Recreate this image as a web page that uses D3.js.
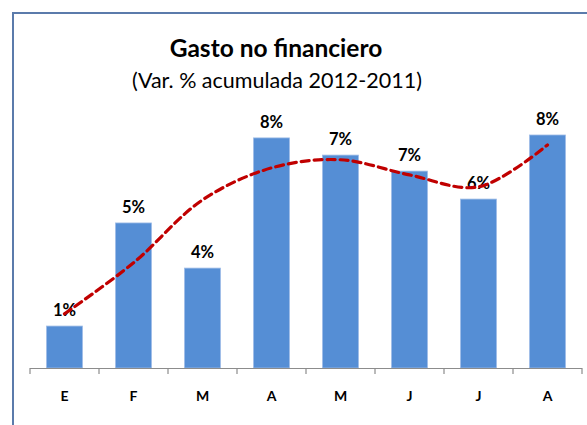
<!DOCTYPE html>
<html><head><meta charset="utf-8">
<script src="https://cdn.jsdelivr.net/npm/d3@7"></script>
<style>body{margin:0;background:#fff}svg{display:block}</style>
</head><body>
<svg id="c" width="587" height="425"></svg>
<script>
const categories = ["E","F","M","A","M","J","J","A"];
const values = [1.44, 4.98, 3.43, 7.9, 7.31, 6.76, 5.8, 8.0];
const labels = ["1%","5%","4%","8%","7%","7%","6%","8%"];
const trend = [1.86, 3.61, 5.77, 6.87, 7.15, 6.63, 6.22, 7.66];

const svg = d3.select("#c");
const font = "Lato, 'Open Sans', sans-serif";

// chart border
svg.append("path").attr("d","M13,425 V13 H587").attr("fill","none")
  .attr("stroke","#5b7bab").attr("stroke-width",2);

svg.append("text").attr("x",276).attr("y",57).attr("text-anchor","middle")
  .attr("font-family",font).attr("font-weight","bold").attr("font-size",24.5)
  .attr("fill","#000").text("Gasto no financiero");
svg.append("text").attr("x",277).attr("y",88).attr("text-anchor","middle")
  .attr("font-family",font).attr("font-size",21.5)
  .attr("fill","#000").text("(Var. % acumulada 2012-2011)");

const x = d3.scaleBand().domain(d3.range(categories.length)).range([30,582])
  .paddingInner(0.48).paddingOuter(0.24);
const y = d3.scaleLinear().domain([0,8]).range([368,135]);

svg.selectAll("rect.bar").data(values).join("rect").attr("class","bar")
  .attr("x",(d,i)=>x(i)).attr("width",x.bandwidth())
  .attr("y",d=>y(d)).attr("height",d=>y(0)-y(d))
  .attr("fill","#558ed5").attr("stroke","#9dbbe6").attr("stroke-width",0.8);

// axis
const step = x.step();
const axis = svg.append("g");
axis.append("line").attr("x1",30).attr("x2",582).attr("y1",368.5).attr("y2",368.5)
  .attr("stroke","#8c8c8c").attr("stroke-width",1.2);
axis.selectAll("line.tick").data(d3.range(categories.length+1)).join("line").attr("class","tick")
  .attr("x1",i=>30+i*step).attr("x2",i=>30+i*step).attr("y1",368).attr("y2",374)
  .attr("stroke","#8c8c8c").attr("stroke-width",1.2);
axis.selectAll("text").data(categories).join("text")
  .attr("x",(d,i)=>x(i)+x.bandwidth()/2).attr("y",401).attr("text-anchor","middle")
  .attr("font-family",font).attr("font-weight","bold").attr("font-size",14)
  .attr("fill","#000").text(d=>d);

// data labels
svg.selectAll("text.lbl").data(values).join("text").attr("class","lbl")
  .attr("x",(d,i)=>x(i)+x.bandwidth()/2).attr("y",d=>y(d)-10).attr("text-anchor","middle")
  .attr("font-family",font).attr("font-weight","bold").attr("font-size",16.5)
  .attr("fill","#000").text((d,i)=>labels[i]);

// trend line
const line = d3.line().x((d,i)=>x(i)+x.bandwidth()/2).y(d=>y(d)).curve(d3.curveCatmullRom.alpha(0.5));
svg.append("path").datum(trend).attr("d",line).attr("fill","none")
  .attr("stroke","#c00000").attr("stroke-width",3.2).attr("stroke-dasharray","8,5")
  .attr("stroke-linecap","round");
</script>
</body></html>
